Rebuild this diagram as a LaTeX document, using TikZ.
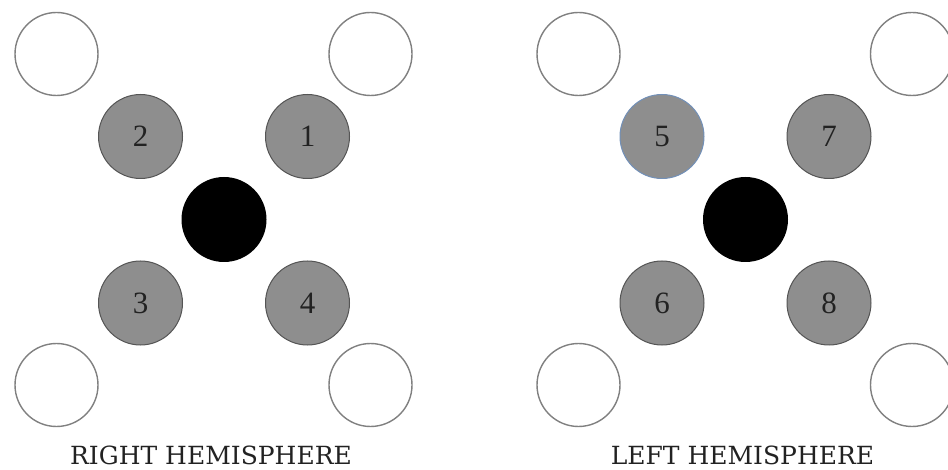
\documentclass[tikz,border=0pt]{standalone}
\usepackage{fontspec}
\setmainfont{DejaVu Serif}
\newfontfamily\digitfont{Liberation Serif}
\definecolor{ringgray}{HTML}{808080}
\definecolor{padfill}{HTML}{8E8E8E}
\definecolor{padedge}{HTML}{555555}
\definecolor{blueedge}{HTML}{7290B8}
\definecolor{labelink}{HTML}{222222}
\begin{document}
\begin{tikzpicture}[x=1pt,y=-1pt,
  ring/.style={circle,draw=ringgray,line width=1.4pt,fill=white,minimum size=83pt,inner sep=0pt},
  pad/.style={circle,draw=padedge,line width=1pt,fill=padfill,minimum size=84pt,inner sep=0pt,
    font=\digitfont\fontsize{31}{31}\selectfont,text=labelink},
  core/.style={circle,fill=black,minimum size=85pt,inner sep=0pt},
  caption/.style={font=\fontsize{25}{25}\selectfont,text=labelink,anchor=base}]
\useasboundingbox (0,0) rectangle (948,470);
% right hemisphere
\node[ring] (rtl) at (56.5,54) {};
\node[ring] (rtr) at (370.5,54) {};
\node[ring] (rbl) at (56.5,385) {};
\node[ring] (rbr) at (370.5,385) {};
\node[pad] (p2) at (140.5,136.5) {2};
\node[pad] (p1) at (307.5,136.5) {1};
\node[pad] (p3) at (140.5,303) {3};
\node[pad] (p4) at (307.5,303) {4};
\node[core] (rc) at (224,219.5) {};
\node[caption] (rlab) at (211,464) {RIGHT HEMISPHERE};
% left hemisphere
\node[ring] (ltl) at (578.5,54) {};
\node[ring] (ltr) at (912,54) {};
\node[ring] (lbl) at (578.5,385) {};
\node[ring] (lbr) at (912,385) {};
\node[pad,draw=blueedge] (p5) at (662,136.5) {5};
\node[pad] (p7) at (829,136.5) {7};
\node[pad] (p6) at (662,303) {6};
\node[pad] (p8) at (829,303) {8};
\node[core] (lc) at (745.5,219.5) {};
\node[caption] (llab) at (742.5,464) {LEFT HEMISPHERE};
\end{tikzpicture}
\end{document}
